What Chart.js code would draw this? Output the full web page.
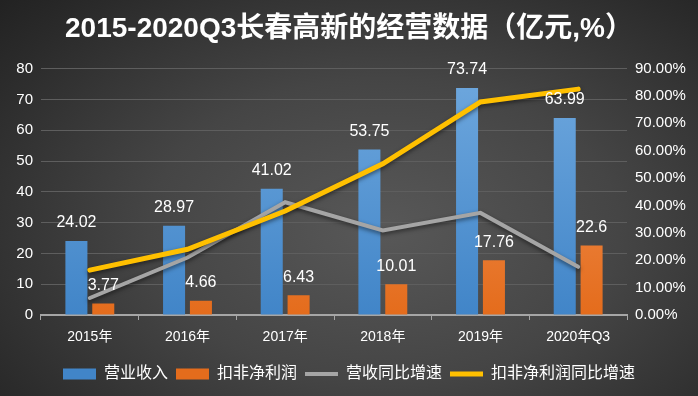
<!DOCTYPE html>
<html>
<head>
<meta charset="utf-8">
<script src="https://cdn.jsdelivr.net/npm/chart.js@4/dist/chart.umd.min.js"></script>
<style>
html,body{margin:0;padding:0;}
body{width:698px;height:396px;overflow:hidden;
background:radial-gradient(ellipse 75% 85% at 55% 58%, #585858 0%, #454545 45%, #2b2b2b 85%, #222 100%);}
#wrap{position:relative;width:698px;height:396px;}
</style>
</head>
<body>
<div id="wrap"><canvas id="c" width="698" height="396"></canvas></div>
<script>
const categories = ['2015年','2016年','2017年','2018年','2019年','2020年Q3'];
const revenue = [24.02, 28.97, 41.02, 53.75, 73.74, 63.99];
const netProfit = [3.77, 4.66, 6.43, 10.01, 17.76, 22.6];
const revenueGrowth = [6.2, 21.0, 41.2, 30.9, 37.3, 17.6];
const profitGrowth = [16.4, 24.0, 38.0, 55.2, 77.8, 82.5];
const seriesNames = ['营业收入','扣非净利润','营收同比增速','扣非净利润同比增速'];
const title = '2015-2020Q3长春高新的经营数据（亿元,%）';

const FONT = '"Liberation Sans", "Noto Sans CJK SC", sans-serif';

function vgrad(ctx, top, bottom){
  const chart = ctx.chart;
  const a = chart.chartArea;
  if(!a) return bottom;
  const g = chart.ctx.createLinearGradient(0, a.top, 0, a.bottom);
  g.addColorStop(0, top);
  g.addColorStop(1, bottom);
  return g;
}

const labelPlugin = {
  id: 'barLabels',
  afterDatasetsDraw(chart){
    const ctx = chart.ctx;
    ctx.save();
    ctx.font = '16px ' + FONT;
    ctx.fillStyle = '#ffffff';
    ctx.textAlign = 'center';
    ctx.textBaseline = 'middle';
    [0,1].forEach(di => {
      const meta = chart.getDatasetMeta(di);
      meta.data.forEach((el, i) => {
        ctx.fillText(String(chart.data.datasets[di].data[i]), el.x, el.y - 18);
      });
    });
    ctx.restore();
  }
};

const shadowPlugin = {
  id: 'lineShadow',
  beforeDatasetDraw(chart, args){
    if (chart.data.datasets[args.index].type === 'line'){
      const ctx = chart.ctx;
      ctx.save();
      ctx.shadowColor = 'rgba(0,0,0,0.5)';
      ctx.shadowBlur = 4;
      ctx.shadowOffsetY = 2;
    }
  },
  afterDatasetDraw(chart, args){
    if (chart.data.datasets[args.index].type === 'line'){
      chart.ctx.restore();
    }
  }
};

new Chart(document.getElementById('c'), {
  data: {
    labels: categories,
    datasets: [
      {type:'bar', label: seriesNames[0], data: revenue, yAxisID:'y', order: 2,
       backgroundColor: c => vgrad(c, '#6fa8de', '#4185c8'), borderWidth: 0,
       categoryPercentage: 0.55, barPercentage: 0.82, pointStyle:'rect'},
      {type:'bar', label: seriesNames[1], data: netProfit, yAxisID:'y', order: 2,
       backgroundColor: c => vgrad(c, '#f49a62', '#e46c1c'), borderWidth: 0,
       categoryPercentage: 0.55, barPercentage: 0.82, pointStyle:'rect'},
      {type:'line', label: seriesNames[2], data: revenueGrowth, yAxisID:'y1', order: 1,
       borderColor:'#a5a5a5', backgroundColor:'#a5a5a5', borderWidth:4, pointRadius:0,
       tension:0, pointStyle:'line', borderCapStyle:'round'},
      {type:'line', label: seriesNames[3], data: profitGrowth, yAxisID:'y1', order: 0,
       borderColor:'#ffc000', backgroundColor:'#ffc000', borderWidth:5, pointRadius:0,
       tension:0, pointStyle:'line', borderCapStyle:'round'}
    ]
  },
  options: {
    responsive:false,
    animation:false,
    devicePixelRatio:1,
    layout:{padding:{left:0,right:0,top:0,bottom:4}},
    plugins:{
      title:{display:true, text:title, color:'#ffffff',
        font:{family:FONT, size:28, weight:'bold'}, padding:{top:12, bottom:23}},
      legend:{position:'bottom',
        labels:{color:'#ffffff', font:{family:FONT, size:16}, usePointStyle:true,
          pointStyleWidth:33, boxHeight:11, padding:8,
          sort:(a,b)=>a.datasetIndex-b.datasetIndex}},
      tooltip:{enabled:false}
    },
    scales:{
      x:{
        grid:{display:true, drawOnChartArea:false, offset:true, tickLength:5, color:'#a6a6a6'},
        border:{display:true, color:'#a6a6a6', width:2},
        ticks:{color:'#ffffff', font:{family:FONT, size:14}, padding:9},
        afterFit: s => { s.height = 43; }
      },
      y:{
        position:'left', min:0, max:80,
        ticks:{stepSize:10, color:'#ffffff', font:{family:FONT, size:15}, padding:8},
        grid:{color:'#5e5e5e', lineWidth:1, drawTicks:false},
        border:{display:false},
        afterFit: s => { s.width = 41; }
      },
      y1:{
        position:'right', min:0, max:90,
        ticks:{stepSize:10, color:'#ffffff', font:{family:FONT, size:15}, padding:8,
          callback: v => v.toFixed(2) + '%'},
        grid:{drawOnChartArea:false, drawTicks:false},
        border:{display:false},
        afterFit: s => { s.width = 71; }
      }
    }
  },
  plugins:[labelPlugin, shadowPlugin]
});
</script>
</body>
</html>
